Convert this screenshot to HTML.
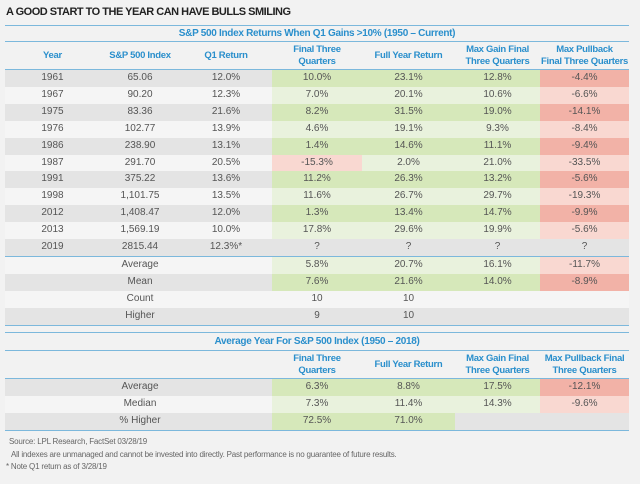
<!DOCTYPE html>
<html><head><meta charset="utf-8">
<style>
html,body{margin:0;padding:0;}
body{width:640px;height:484px;background:#f2f2f2;position:relative;overflow:hidden;font-family:"Liberation Sans Narrow","Liberation Sans",sans-serif;color:#555;}
.title{position:absolute;left:6px;top:6px;font-size:11px;font-weight:bold;color:#222;letter-spacing:-0.5px;}
.hl{position:absolute;left:5px;width:624px;height:1px;background:#7cb8dc;}
.sub{position:absolute;left:5px;width:624px;text-align:center;font-size:10px;font-weight:bold;color:#2a8fcc;letter-spacing:-0.3px;}
table{position:absolute;left:5px;border-collapse:collapse;table-layout:fixed;width:624px;font-size:10px;}
td{padding:0;text-align:center;height:16.9px;line-height:16.9px;white-space:nowrap;overflow:hidden;}
th{padding:0;text-align:center;color:#2a8fcc;font-weight:bold;font-size:9.5px;line-height:12px;white-space:nowrap;letter-spacing:-0.3px;height:27px;overflow:hidden;}
tr.g td{background:#e4e4e4;}
tr.w td{background:#f5f5f5;}
td.G{background:#d6e8ba!important;}
td.L{background:#e9f2dd!important;}
td.R{background:#f2b2a7!important;}
td.r{background:#f9d8d1!important;}
.foot{position:absolute;left:9px;font-size:8px;color:#666;letter-spacing:-0.2px;}
</style></head><body>
<div class="title">A GOOD START TO THE YEAR CAN HAVE BULLS SMILING</div>
<div class="hl" style="top:25px"></div>
<div class="sub" style="top:28px">S&amp;P 500 Index Returns When Q1 Gains &gt;10% (1950 – Current)</div>
<div class="hl" style="top:41px"></div>
<table style="top:42px">
<colgroup><col style="width:95px"><col style="width:80px"><col style="width:92px"><col style="width:90px"><col style="width:93px"><col style="width:85px"><col style="width:89px"></colgroup>
<tr><th>Year</th><th>S&amp;P 500 Index</th><th>Q1 Return</th><th>Final Three<br>Quarters</th><th>Full Year Return</th><th>Max Gain Final<br>Three Quarters</th><th>Max Pullback<br>Final Three Quarters</th></tr>
<tr class="g"><td style="border-top:1px solid #7cb8dc">1961</td><td style="border-top:1px solid #7cb8dc">65.06</td><td style="border-top:1px solid #7cb8dc">12.0%</td><td class="G" style="border-top:1px solid #7cb8dc">10.0%</td><td class="G" style="border-top:1px solid #7cb8dc">23.1%</td><td class="G" style="border-top:1px solid #7cb8dc">12.8%</td><td class="R" style="border-top:1px solid #7cb8dc">-4.4%</td></tr>
<tr class="w"><td>1967</td><td>90.20</td><td>12.3%</td><td class="L">7.0%</td><td class="L">20.1%</td><td class="L">10.6%</td><td class="r">-6.6%</td></tr>
<tr class="g"><td>1975</td><td>83.36</td><td>21.6%</td><td class="G">8.2%</td><td class="G">31.5%</td><td class="G">19.0%</td><td class="R">-14.1%</td></tr>
<tr class="w"><td>1976</td><td>102.77</td><td>13.9%</td><td class="L">4.6%</td><td class="L">19.1%</td><td class="L">9.3%</td><td class="r">-8.4%</td></tr>
<tr class="g"><td>1986</td><td>238.90</td><td>13.1%</td><td class="G">1.4%</td><td class="G">14.6%</td><td class="G">11.1%</td><td class="R">-9.4%</td></tr>
<tr class="w"><td>1987</td><td>291.70</td><td>20.5%</td><td class="r">-15.3%</td><td class="L">2.0%</td><td class="L">21.0%</td><td class="r">-33.5%</td></tr>
<tr class="g"><td>1991</td><td>375.22</td><td>13.6%</td><td class="G">11.2%</td><td class="G">26.3%</td><td class="G">13.2%</td><td class="R">-5.6%</td></tr>
<tr class="w"><td>1998</td><td>1,101.75</td><td>13.5%</td><td class="L">11.6%</td><td class="L">26.7%</td><td class="L">29.7%</td><td class="r">-19.3%</td></tr>
<tr class="g"><td>2012</td><td>1,408.47</td><td>12.0%</td><td class="G">1.3%</td><td class="G">13.4%</td><td class="G">14.7%</td><td class="R">-9.9%</td></tr>
<tr class="w"><td>2013</td><td>1,569.19</td><td>10.0%</td><td class="L">17.8%</td><td class="L">29.6%</td><td class="L">19.9%</td><td class="r">-5.6%</td></tr>
<tr class="g"><td>2019</td><td>2815.44</td><td>12.3%*</td><td>?</td><td>?</td><td>?</td><td>?</td></tr>
<tr class="w"><td style="border-top:1px solid #7cb8dc"></td><td style="border-top:1px solid #7cb8dc">Average</td><td style="border-top:1px solid #7cb8dc"></td><td class="L" style="border-top:1px solid #7cb8dc">5.8%</td><td class="L" style="border-top:1px solid #7cb8dc">20.7%</td><td class="L" style="border-top:1px solid #7cb8dc">16.1%</td><td class="r" style="border-top:1px solid #7cb8dc">-11.7%</td></tr>
<tr class="g"><td></td><td>Mean</td><td></td><td class="G">7.6%</td><td class="G">21.6%</td><td class="G">14.0%</td><td class="R">-8.9%</td></tr>
<tr class="w"><td></td><td>Count</td><td></td><td>10</td><td>10</td><td></td><td></td></tr>
<tr class="g"><td style="border-bottom:1px solid #7cb8dc"></td><td style="border-bottom:1px solid #7cb8dc">Higher</td><td style="border-bottom:1px solid #7cb8dc"></td><td style="border-bottom:1px solid #7cb8dc">9</td><td style="border-bottom:1px solid #7cb8dc">10</td><td style="border-bottom:1px solid #7cb8dc"></td><td style="border-bottom:1px solid #7cb8dc"></td></tr>
</table>
<div class="hl" style="top:332px"></div>
<div class="sub" style="top:336px">Average Year For S&amp;P 500 Index (1950 – 2018)</div>
<div class="hl" style="top:350px"></div>
<table style="top:351px">
<colgroup><col style="width:95px"><col style="width:80px"><col style="width:92px"><col style="width:90px"><col style="width:93px"><col style="width:85px"><col style="width:89px"></colgroup>
<tr><th></th><th></th><th></th><th>Final Three<br>Quarters</th><th>Full Year Return</th><th>Max Gain Final<br>Three Quarters</th><th>Max Pullback Final<br>Three Quarters</th></tr>
<tr class="g"><td style="border-top:1px solid #7cb8dc"></td><td style="border-top:1px solid #7cb8dc">Average</td><td style="border-top:1px solid #7cb8dc"></td><td class="G" style="border-top:1px solid #7cb8dc">6.3%</td><td class="G" style="border-top:1px solid #7cb8dc">8.8%</td><td class="G" style="border-top:1px solid #7cb8dc">17.5%</td><td class="R" style="border-top:1px solid #7cb8dc">-12.1%</td></tr>
<tr class="w"><td></td><td>Median</td><td></td><td class="L">7.3%</td><td class="L">11.4%</td><td class="L">14.3%</td><td class="r">-9.6%</td></tr>
<tr class="g"><td style="border-bottom:1px solid #7cb8dc"></td><td style="border-bottom:1px solid #7cb8dc">% Higher</td><td style="border-bottom:1px solid #7cb8dc"></td><td class="G" style="border-bottom:1px solid #7cb8dc">72.5%</td><td class="G" style="border-bottom:1px solid #7cb8dc">71.0%</td><td style="border-bottom:1px solid #7cb8dc"></td><td style="border-bottom:1px solid #7cb8dc"></td></tr>
</table>
<div class="foot" style="top:437px">Source: LPL Research, FactSet 03/28/19</div>
<div class="foot" style="top:450px;left:11px">All indexes are unmanaged and cannot be invested into directly. Past performance is no guarantee of future results.</div>
<div class="foot" style="top:462px;left:6px">* Note Q1 return as of 3/28/19</div>
</body></html>
